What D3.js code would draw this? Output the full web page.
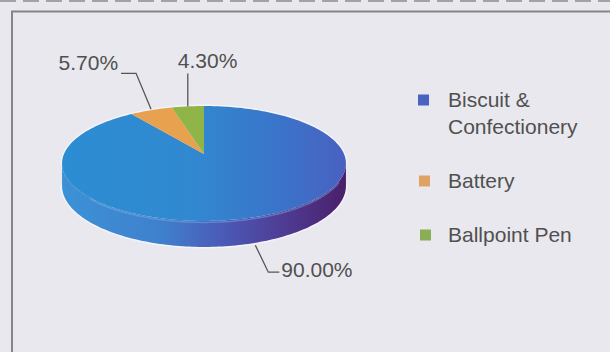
<!DOCTYPE html>
<html><head><meta charset="utf-8">
<script src="https://cdn.jsdelivr.net/npm/d3@7/dist/d3.min.js"></script>
<style>
html,body{margin:0;padding:0;background:#e9e8ee;}
svg{display:block;}
text{font-family:"Liberation Sans",Arial,sans-serif;fill:#505050;}
</style></head><body>
<svg id="c" width="610" height="352"></svg>
<script>
// ---- data ----
const categories = ["Biscuit & Confectionery", "Battery", "Ballpoint Pen"];
const values = [90.0, 5.7, 4.3];
const valueLabels = ["90.00%", "5.70%", "4.30%"];
const legendLines = [["Biscuit &", "Confectionery"], ["Battery"], ["Ballpoint Pen"]];
const topColors = ["#3484cf", "#e8a24f", "#8fb548"];
const legendColors = ["#4a63c0", "#e0a263", "#8bad53"];

// ---- setup ----
const W = 610, H = 352;
const svg = d3.select("#c");
svg.append("rect").attr("width", W).attr("height", H).attr("fill", "#e9e8ee");

// scan artifact at top + frame
svg.append("line").attr("x1", 0).attr("x2", W).attr("y1", 1).attr("y2", 1)
  .attr("stroke", "#6a6a6a").attr("stroke-width", 2).attr("stroke-dasharray", "16 7").attr("opacity", 0.55);
svg.append("path").attr("d", `M12,${H} L12,11.5 L${W},11.5`)
  .attr("fill", "none").attr("stroke", "#858585").attr("stroke-width", 2);

const defs = svg.append("defs");
const gTop = defs.append("linearGradient").attr("id", "gTop")
  .attr("gradientUnits", "userSpaceOnUse").attr("x1", 63).attr("x2", 348).attr("y1", 0).attr("y2", 0);
[[0, "#2c8dd2"], [0.45, "#3189d0"], [0.75, "#3a74ca"], [1, "#4a60c1"]]
  .forEach(([o, c]) => gTop.append("stop").attr("offset", o).attr("stop-color", c));
const gSide = defs.append("linearGradient").attr("id", "gSide")
  .attr("gradientUnits", "userSpaceOnUse").attr("x1", 63).attr("x2", 348).attr("y1", 0).attr("y2", 0);
[[0, "#3c92d6"], [0.35, "#3f80cc"], [0.55, "#4a5cb8"], [0.75, "#4f3f98"], [1, "#4a1e68"]]
  .forEach(([o, c]) => gSide.append("stop").attr("offset", o).attr("stop-color", c));

// ---- 3D pie with perspective ----
const cx = 204, cy = 154, b = 140, a = 55.9, k = 0.165, depth = 21.7;
function proj(t, down) {
  const s = 1 / (1 + k * Math.cos(t));
  return [cx + b * Math.sin(t) * s, cy - a * Math.cos(t) * s + (down || 0) * s];
}
function arcPts(t0, t1, down) {
  const n = Math.max(2, Math.ceil(Math.abs(t1 - t0) / 0.02));
  return d3.range(n + 1).map(i => proj(t0 + (t1 - t0) * i / n, down));
}

const arcs = d3.pie().sort(null).value(d => d)(values);
const ts = Math.acos(-k); // silhouette angle

// soft light halo around the pie (scan glow)
const outline = arcPts(2 * Math.PI - ts, 2 * Math.PI + ts, 0)
  .concat(arcPts(ts, 2 * Math.PI - ts, depth).reverse());
svg.append("path").attr("d", d3.line()(outline) + "Z")
  .attr("fill", "none").attr("stroke", "#f6f6fa").attr("stroke-width", 3).attr("opacity", 0.8);

// side wall (front visible portion)
arcs.forEach((d, i) => {
  const s0 = Math.max(d.startAngle, ts), s1 = Math.min(d.endAngle, 2 * Math.PI - ts);
  if (s1 <= s0) return;
  const topE = arcPts(s0, s1, 0), botE = arcPts(s1, s0, depth);
  svg.append("path").attr("d", d3.line()(topE.concat(botE)) + "Z")
    .attr("fill", i === 0 ? "url(#gSide)" : topColors[i]);
});
// highlight edge between top and side
svg.append("path").attr("d", d3.line()(arcPts(ts + 0.3, 2 * Math.PI - ts - 0.6, 1.2)))
  .attr("fill", "none").attr("stroke", "#7fb0e6").attr("stroke-width", 1.5).attr("opacity", 0.45);

// top faces
arcs.forEach((d, i) => {
  const pts = [[cx, cy]].concat(arcPts(d.startAngle, d.endAngle, 0));
  svg.append("path").attr("d", d3.line()(pts) + "Z")
    .attr("fill", i === 0 ? "url(#gTop)" : topColors[i]);
});

// ---- labels with leaders ----
const lead = { stroke: "#555", width: 1.3 };
arcs.forEach((d, i) => {
  const mid = (d.startAngle + d.endAngle) / 2;
  let pts, tx, ty, anchor;
  if (i === 0) {
    const p = proj(mid, depth + 2);
    pts = [p, [p[0] + 13, p[1] + 27], [p[0] + 24, p[1] + 27]];
    tx = p[0] + 26; ty = p[1] + 32; anchor = "start";
  } else if (i === 1) {
    const p = proj(mid, -1);
    pts = [p, [p[0] - 15, p[1] - 36], [p[0] - 30, p[1] - 36]];
    tx = p[0] - 33; ty = p[1] - 39; anchor = "end";
  } else {
    const p = proj(mid, 0);
    pts = [p, [p[0], p[1] - 33]];
    tx = p[0] - 10; ty = p[1] - 38; anchor = "start";
  }
  svg.append("path").attr("d", d3.line()(pts)).attr("fill", "none")
    .attr("stroke", lead.stroke).attr("stroke-width", lead.width);
  svg.append("text").attr("x", tx).attr("y", ty).attr("text-anchor", anchor)
    .attr("font-size", 21).text(valueLabels[i]);
});

// ---- legend ----
const legTop = [100, 181, 235];
categories.forEach((c, i) => {
  const y = legTop[i];
  svg.append("rect").attr("x", 418 + i).attr("y", y - 5.5).attr("width", 11).attr("height", 11)
    .attr("fill", legendColors[i]);
  legendLines[i].forEach((ln, j) => {
    svg.append("text").attr("x", 448).attr("y", y + 7 + j * 27).attr("font-size", 21).text(ln);
  });
});
</script>
</body></html>
